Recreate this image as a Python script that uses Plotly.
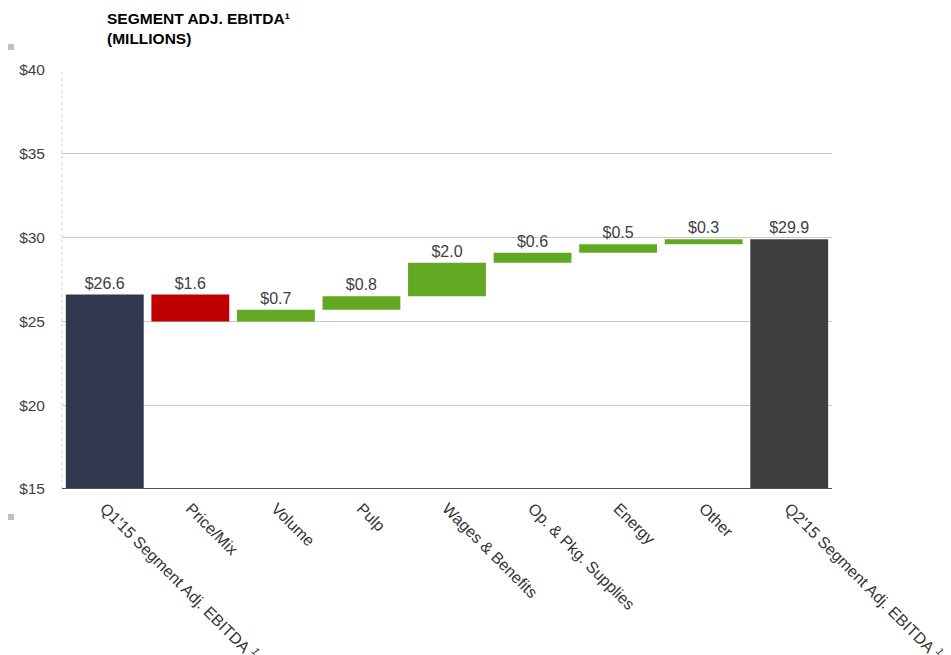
import plotly.graph_objects as go
import numpy as np

categories = ["Q1'15 Segment Adj. EBITDA <i><sup>1</sup></i>", "Price/Mix", "Volume", "Pulp",
              "Wages & Benefits", "Op. & Pkg. Supplies", "Energy", "Other",
              "Q2'15 Segment Adj. EBITDA <i><sup>1</sup></i>"]
changes = [26.6, -1.6, 0.7, 0.8, 2.0, 0.6, 0.5, 0.3]
end_total = 29.9
labels = ["$26.6", "$1.6", "$0.7", "$0.8", "$2.0", "$0.6", "$0.5", "$0.3", "$29.9"]
colors = ["#2f384d", "#c00000", "#62a823", "#62a823", "#62a823", "#62a823", "#62a823", "#62a823", "#3e3e3e"]
ytick_vals = [15, 20, 25, 30, 35, 40]
ytick_text = ["$15", "$20", "$25", "$30", "$35", "$40"]

cum = np.cumsum(changes)
bases, heights = [0.0], [changes[0]]
for i in range(1, len(changes)):
    lo = min(cum[i - 1], cum[i])
    bases.append(lo)
    heights.append(abs(changes[i]))
bases.append(0.0)
heights.append(end_total)

# page offset (body margin 8px)
OFF = 8
W, H = 951 - OFF, 655 - OFF
PL, PR, PT, PB = 62, 832, 70, 489  # plot area in page pixels
pw, ph = PR - PL, PB - PT

fig = go.Figure(go.Bar(
    x=categories, y=heights, base=bases,
    marker=dict(color=colors, line=dict(width=0)),
    text=labels, textposition="outside", cliponaxis=False,
    textfont=dict(family="Liberation Sans, Arial", size=16, color="#404040"),
    hoverinfo="skip",
))

fig.update_layout(
    width=W, height=H,
    margin=dict(l=PL - OFF, r=W - (PR - OFF), t=PT - OFF, b=H - (PB - OFF)),
    paper_bgcolor="white", plot_bgcolor="white",
    bargap=0.09, showlegend=False,
    font=dict(family="Liberation Sans, Arial", color="#404040"),
    xaxis=dict(tickangle=45, tickfont=dict(size=16, color="#333333"),
               showline=False, ticks="", automargin=False, ticklabelstandoff=6),
    yaxis=dict(range=[15, 40], tickvals=ytick_vals, ticktext=ytick_text,
               tickfont=dict(size=15.5, color="#404040"), showgrid=True,
               gridcolor="#c8c8c8", gridwidth=1, zeroline=False, ticks="",
               ticklabelstandoff=16, automargin=False),
    annotations=[dict(text="<b>SEGMENT ADJ. EBITDA¹<br>(MILLIONS)</b>", xref="paper", yref="paper",
                      x=(105 - PL) / pw, y=1 + (PT - 8) / ph, xanchor="left", yanchor="top",
                      showarrow=False, align="left",
                      font=dict(size=15.5, color="#000000", family="Liberation Sans, Arial"))],
)

shapes = [
    dict(type="line", xref="paper", yref="paper", x0=0, x1=0, y0=0, y1=1,
         line=dict(color="#d0d0d0", width=1, dash="dot")),
    dict(type="line", xref="paper", yref="y", x0=0, x1=1, y0=15, y1=15,
         line=dict(color="#555555", width=2)),
    dict(type="rect", xref="paper", yref="paper", x0=(OFF - PL) / pw, x1=(OFF + 6 - PL) / pw,
         y0=1 + (PT - 50) / ph, y1=1 + (PT - 44) / ph, fillcolor="#bfbfbf", line=dict(width=0)),
    dict(type="rect", xref="paper", yref="paper", x0=(OFF - PL) / pw, x1=(OFF + 6 - PL) / pw,
         y0=-(520 - PB) / ph, y1=-(514 - PB) / ph, fillcolor="#bfbfbf", line=dict(width=0)),
]
fig.update_layout(shapes=shapes)

fig.write_html("out.html")
